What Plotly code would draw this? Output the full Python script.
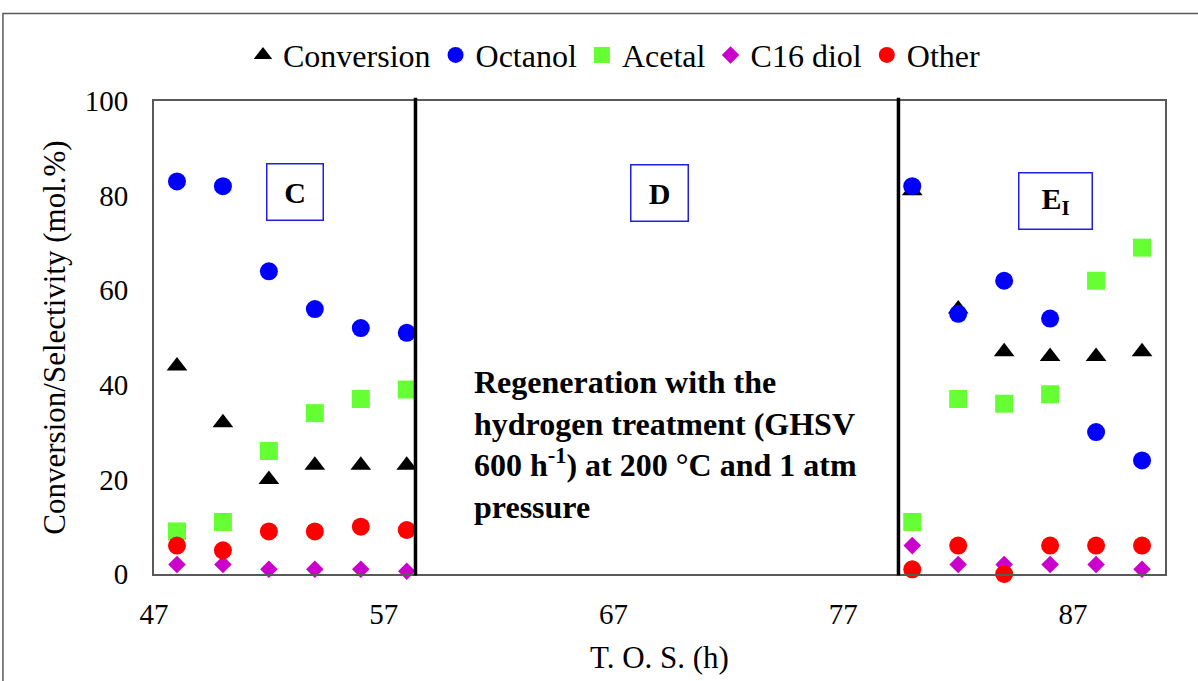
import plotly.graph_objects as go

# ---- data ----
tos = [48, 50, 52, 54, 56, 58, 80, 82, 84, 86, 88, 90]
conversion = [44, 32, 20, 23, 23, 23, 81, 56, 47, 46, 46, 47]
octanol = [83, 82, 64, 56, 52, 51, 82, 55, 62, 54, 30, 24]
acetal = [9, 11, 26, 34, 37, 39, 11, 37, 36, 38, 62, 69]
c16_diol = [2, 2, 1, 1, 1, 0.6, 6, 2, 2, 2, 2, 1]
other = [6, 5, 9, 9, 10, 9.3, 1, 6, 0, 6, 6, 6]

x_ticks = [47, 57, 67, 77, 87]
y_ticks = [0, 20, 40, 60, 80, 100]
region_bounds = [58.38, 79.40]

FONT = "Liberation Serif"

series = [
    ("Conversion", conversion, "triangle-up", 18, "#000000"),
    ("Octanol", octanol, "circle", 18, "#0000FF"),
    ("Acetal", acetal, "square", 18, "#66FF33"),
    ("C16 diol", c16_diol, "diamond", 13.5, "#CC00CC"),
    ("Other", other, "circle", 18, "#FF0000"),
]

fig = go.Figure()
for name, vals, sym, size, col in series:
    fig.add_trace(go.Scatter(
        x=tos, y=vals, mode="markers", name=name,
        marker=dict(symbol=sym, size=size, color=col, line=dict(width=0)),
        cliponaxis=False,
    ))

shapes = []
for xb in region_bounds:
    shapes.append(dict(type="line", xref="x", yref="paper", x0=xb, x1=xb,
                       y0=-0.003, y1=1.007, line=dict(color="black", width=3.5)))
# outer chart border
shapes.append(dict(type="rect", xref="paper", yref="paper",
                   x0=-0.1494, x1=1.04, y0=-0.25, y1=1.185,
                   line=dict(color="#595959", width=1.5), layer="below"))

annotations = []
boxes = [("<b>C</b>", 53.14, 80.7, 51), ("<b>D</b>", 69.0, 80.6, 52),
         ("<b>E<sub>I</sub></b>", 86.23, 78.9, 68)]
for txt, bx, by, w in boxes:
    annotations.append(dict(x=bx, y=by, xref="x", yref="y", text=txt, showarrow=False,
                            font=dict(family=FONT, size=30, color="black"),
                            bordercolor="#1F1FE0", borderwidth=1.5, borderpad=2,
                            width=w, height=51, bgcolor="white"))

annotations.append(dict(
    x=60.85, y=27.4, xref="x", yref="y", xanchor="left", yanchor="middle", align="left",
    showarrow=False,
    text=("<b>Regeneration with the<br>hydrogen treatment (GHSV<br>"
          "600 h<sup>-1</sup>) at 200 °C and 1 atm<br>pressure</b>"),
    font=dict(family=FONT, size=32, color="black"),
))

fig.update_layout(
    width=1198, height=681,
    margin=dict(l=154, r=33, t=101, b=105),
    paper_bgcolor="white", plot_bgcolor="white",
    font=dict(family=FONT, size=29, color="black"),
    showlegend=True,
    legend=dict(orientation="h", x=0.455, xanchor="center", y=1.097, yanchor="middle",
                font=dict(family=FONT, size=32, color="black"),
                bgcolor="rgba(0,0,0,0)", itemwidth=30, tracegroupgap=0),
    shapes=shapes,
    annotations=annotations,
    xaxis=dict(range=[47, 91], tickvals=x_ticks, ticktext=[str(v) for v in x_ticks],
               showgrid=False, zeroline=False, showline=True, linecolor="#595959",
               linewidth=2, mirror=True, ticks="", ticklabelstandoff=13,
               tickfont=dict(family=FONT, size=29, color="black"),
               title=dict(text="T. O. S. (h)", font=dict(family=FONT, size=31, color="black"),
                          standoff=18)),
    yaxis=dict(range=[0, 100], tickvals=y_ticks, ticktext=[str(v) for v in y_ticks],
               showgrid=False, zeroline=False, showline=True, linecolor="#595959",
               linewidth=2, mirror=True, ticks="", ticklabelstandoff=18,
               tickfont=dict(family=FONT, size=29, color="black"),
               title=dict(text="Conversion/Selectivity (mol.%)",
                          font=dict(family=FONT, size=31, color="black"), standoff=10)),
)

fig.write_html("out.html")
